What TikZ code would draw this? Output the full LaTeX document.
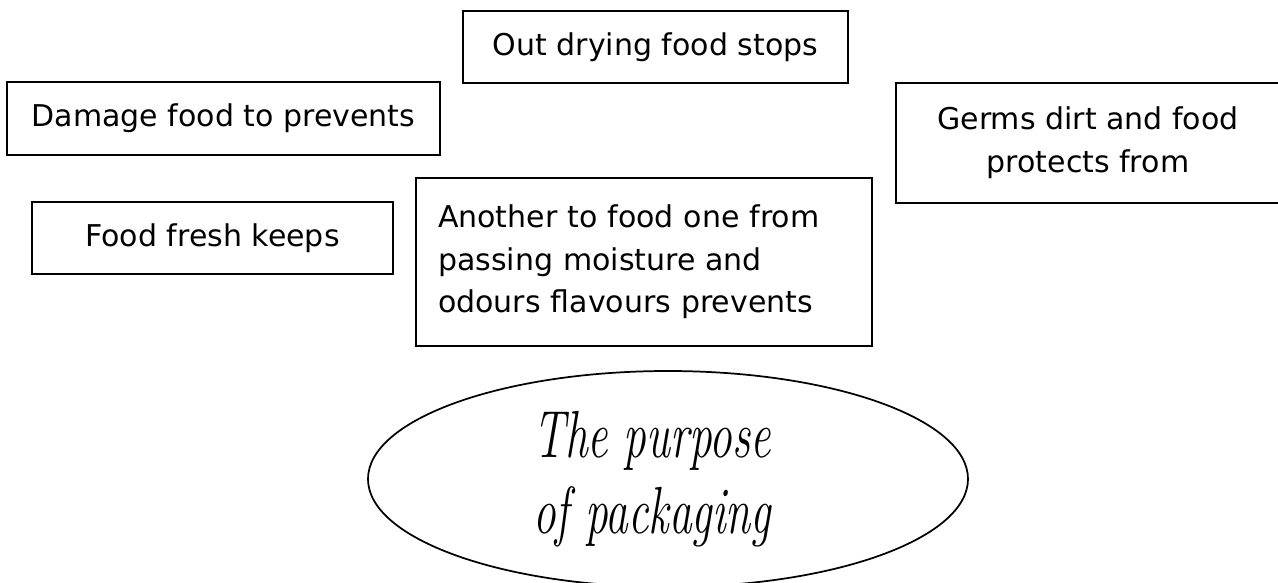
\documentclass[tikz,border=0pt]{standalone}
\usepackage{fontspec}
\setmainfont{DejaVu Sans}
\newfontfamily\packagingfont[FakeStretch=0.68]{Latin Modern Roman}
\usepackage{tikz}
\usetikzlibrary{shapes.geometric}

\begin{document}
\begin{tikzpicture}[
        x=0.75pt, y=-0.75pt,
        fact_box/.style={draw, rectangle, line width=1.3pt, inner sep=0pt, align=center, font=\fontsize{22.5}{32}\selectfont},
        purpose_oval/.style={draw, ellipse, line width=1.3pt, inner sep=0pt, minimum width=450pt, minimum height=162pt, align=center, font=\packagingfont\itshape\fontsize{50}{57}\selectfont}
    ]
        \useasboundingbox (0, 0) rectangle (1278, 582);

        % Purposes around the oval
        \node (drying) at (655.5, 47) [fact_box, minimum width=288.75pt, minimum height=54pt] {Out drying food stops};
        \node (damage) at (223.5, 118.5) [fact_box, minimum width=324.75pt, minimum height=54.75pt] {Damage food to prevents};
        \node (germs) at (1088, 143) [fact_box, minimum width=288pt, minimum height=90pt] {Germs dirt and food\\protects from};
        \node (fresh) at (212.5, 238) [fact_box, minimum width=270.75pt, minimum height=54pt] {Food fresh keeps};
        \node (odours) at (644, 262) [fact_box, minimum width=342pt, minimum height=126pt, text width=309pt, align=left] {Another to food one from\\passing moisture and\\odours flavours prevents};

        % Centre
        \node (purpose) at (668, 479) [purpose_oval] {The purpose\hspace*{24pt}\\of packaging\hspace*{24pt}};

    \end{tikzpicture}
\end{document}
